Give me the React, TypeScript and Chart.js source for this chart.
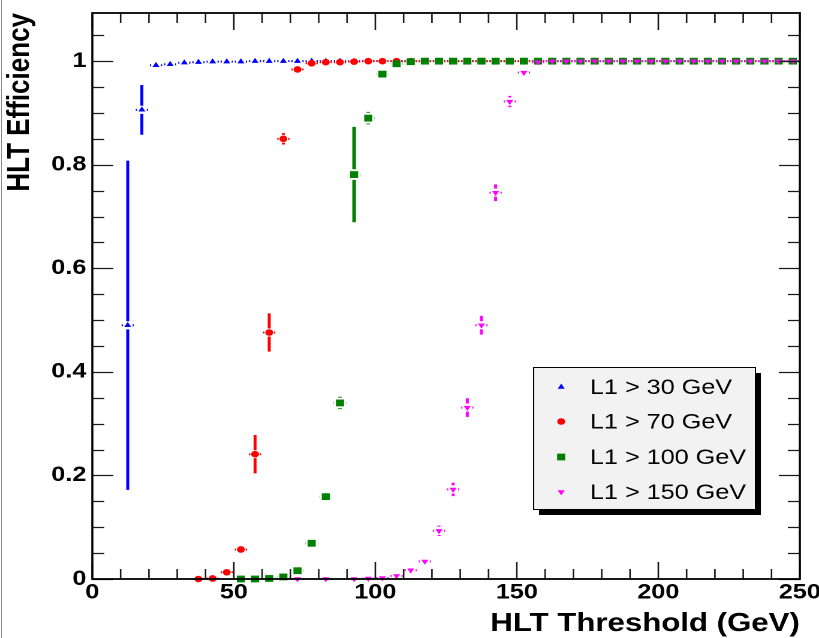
import React, { useEffect, useRef } from 'react';
import { Chart, registerables } from 'chart.js';

Chart.register(...registerables);

// ---------------- data ----------------
const seriesLabels = ['L1 > 30 GeV', 'L1 > 70 GeV', 'L1 > 100 GeV', 'L1 > 150 GeV'];
const seriesColors = ['#0000ff', '#ff0000', '#008000', '#ff00ff'];

const xTickValues = [0, 50, 100, 150, 200, 250];
const xTickLabels = ['0', '50', '100', '150', '200', '250'];
const yTickValues = [0, 0.2, 0.4, 0.6, 0.8, 1];
const yTickLabels = ['0', '0.2', '0.4', '0.6', '0.8', '1'];

const BIN_HALF_WIDTH = 2.5; // GeV, horizontal error bar

const l1_30_x = [12.5, 17.5, 22.5, 27.5, 32.5, 37.5, 42.5, 47.5, 52.5, 57.5, 62.5, 67.5, 72.5, 77.5, 82.5, 87.5, 92.5, 97.5, 102.5, 107.5, 112.5, 117.5, 122.5, 127.5, 132.5, 137.5, 142.5, 147.5, 152.5, 157.5, 162.5, 167.5, 172.5, 177.5, 182.5, 187.5, 192.5, 197.5, 202.5, 207.5, 212.5, 217.5, 222.5, 227.5, 232.5, 237.5, 242.5, 247.5];
const l1_30_eff = [0.49, 0.906, 0.992, 0.994, 0.997, 0.998, 0.999, 0.999, 0.999, 1, 1, 1, 1, 1, 1, 1, 1, 1, 1, 1, 1, 1, 1, 1, 1, 1, 1, 1, 1, 1, 1, 1, 1, 1, 1, 1, 1, 1, 1, 1, 1, 1, 1, 1, 1, 1, 1, 1];
const l1_30_err = [0.318, 0.048, 0.003, 0.002, 0.002, 0.001, 0.001, 0.001, 0.001, 0, 0, 0, 0, 0, 0, 0, 0, 0, 0, 0, 0, 0, 0, 0, 0, 0, 0, 0, 0, 0, 0, 0, 0, 0, 0, 0, 0, 0, 0, 0, 0, 0, 0, 0, 0, 0, 0, 0];

const l1_70_x = [37.5, 42.5, 47.5, 52.5, 57.5, 62.5, 67.5, 72.5, 77.5, 82.5, 87.5, 92.5, 97.5, 102.5, 107.5, 112.5, 117.5, 122.5, 127.5, 132.5, 137.5, 142.5, 147.5, 152.5, 157.5, 162.5, 167.5, 172.5, 177.5, 182.5, 187.5, 192.5, 197.5, 202.5, 207.5, 212.5, 217.5, 222.5, 227.5, 232.5, 237.5, 242.5, 247.5];
const l1_70_eff = [0, 0.001, 0.013, 0.057, 0.241, 0.476, 0.85, 0.984, 0.996, 0.998, 0.998, 0.999, 1, 1, 1, 1, 1, 1, 1, 1, 1, 1, 1, 1, 1, 1, 1, 1, 1, 1, 1, 1, 1, 1, 1, 1, 1, 1, 1, 1, 1, 1, 1];
const l1_70_err = [0.001, 0.001, 0.004, 0.006, 0.037, 0.037, 0.011, 0.005, 0.003, 0.002, 0.001, 0.001, 0, 0, 0, 0, 0, 0, 0, 0, 0, 0, 0, 0, 0, 0, 0, 0, 0, 0, 0, 0, 0, 0, 0, 0, 0, 0, 0, 0, 0, 0, 0];

const l1_100_x = [52.5, 57.5, 62.5, 67.5, 72.5, 77.5, 82.5, 87.5, 92.5, 97.5, 102.5, 107.5, 112.5, 117.5, 122.5, 127.5, 132.5, 137.5, 142.5, 147.5, 152.5, 157.5, 162.5, 167.5, 172.5, 177.5, 182.5, 187.5, 192.5, 197.5, 202.5, 207.5, 212.5, 217.5, 222.5, 227.5, 232.5, 237.5, 242.5, 247.5];
const l1_100_eff = [0, 0, 0.001, 0.004, 0.016, 0.069, 0.159, 0.34, 0.781, 0.89, 0.975, 0.995, 0.999, 1, 1, 1, 1, 1, 1, 1, 1, 1, 1, 1, 1, 1, 1, 1, 1, 1, 1, 1, 1, 1, 1, 1, 1, 1, 1, 1];
const l1_100_err = [0.001, 0.001, 0.001, 0.002, 0.004, 0.006, 0.008, 0.012, 0.092, 0.012, 0.006, 0.004, 0.001, 0, 0, 0, 0, 0, 0, 0, 0, 0, 0, 0, 0, 0, 0, 0, 0, 0, 0, 0, 0, 0, 0, 0, 0, 0, 0, 0];

const l1_150_x = [72.5, 82.5, 92.5, 97.5, 102.5, 107.5, 112.5, 117.5, 122.5, 127.5, 132.5, 137.5, 142.5, 147.5, 152.5, 157.5, 162.5, 167.5, 172.5, 177.5, 182.5, 187.5, 192.5, 197.5, 202.5, 207.5, 212.5, 217.5, 222.5, 227.5, 232.5, 237.5, 242.5, 247.5];
const l1_150_eff = [0, 0, 0, 0.001, 0.002, 0.006, 0.017, 0.034, 0.093, 0.173, 0.331, 0.49, 0.746, 0.922, 0.978, 0.998, 1, 1, 1, 1, 1, 1, 1, 1, 1, 1, 1, 1, 1, 1, 1, 1, 1, 1];
const l1_150_err = [0.001, 0.001, 0.001, 0.001, 0.001, 0.002, 0.003, 0.005, 0.01, 0.013, 0.018, 0.018, 0.016, 0.011, 0.006, 0.002, 0, 0, 0, 0, 0, 0, 0, 0, 0, 0, 0, 0, 0, 0, 0, 0, 0, 0];

// ---------------- layout / style ----------------
const OUT_W = 819;
const OUT_H = 638;
const IN_W = 683; // internal canvas width, stretched horizontally to OUT_W
const STRETCH = OUT_W / IN_W;
const FONT = "'Liberation Sans', Arial, Helvetica, sans-serif";

const markerStyles = ['triangle', 'circle', 'rect', 'triangle'];
const markerRotations = [0, 0, 0, 180];
const markerRadii = [3.4, 3.3, 4.8, 3.4];
const errWidths = [2.5, 2.5, 3, 2.5];

const errorBarPlugin = {
  id: 'errorBars',
  beforeDatasetDraw(chart: any, args: any) {
    const ds = chart.data.datasets[args.index];
    const errs: number[] = ds.errors;
    if (!errs) return;
    const { ctx, chartArea } = chart;
    const xs = chart.scales.x;
    const ys = chart.scales.y;
    const r = ds.pointRadius;
    ctx.save();
    ctx.beginPath();
    ctx.rect(chartArea.left - 6, chartArea.top, chartArea.right - chartArea.left + 12, chartArea.bottom - chartArea.top + 6);
    ctx.clip();
    ctx.strokeStyle = ds.backgroundColor;
    ds.data.forEach((p: any, i: number) => {
      const px = xs.getPixelForValue(p.x);
      const py = ys.getPixelForValue(p.y);
      const x0 = xs.getPixelForValue(p.x - BIN_HALF_WIDTH);
      const x1 = xs.getPixelForValue(p.x + BIN_HALF_WIDTH);
      const gap = r * 0.9 + 1;
      ctx.lineWidth = 2;
      ctx.beginPath();
      ctx.moveTo(x0 + 0.8, py);
      ctx.lineTo(px - gap, py);
      ctx.moveTo(px + gap, py);
      ctx.lineTo(x1 - 0.8, py);
      ctx.stroke();
      const e = errs[i];
      if (e > 0) {
        const yTop = ys.getPixelForValue(p.y + e);
        const yBot = ys.getPixelForValue(p.y - e);
        ctx.lineWidth = ds.errWidth;
        ctx.beginPath();
        if (py - yTop > gap) {
          ctx.moveTo(px, yTop);
          ctx.lineTo(px, py - gap);
        }
        if (yBot - py > gap) {
          ctx.moveTo(px, py + gap);
          ctx.lineTo(px, yBot);
        }
        ctx.stroke();
      }
    });
    ctx.restore();
  },
};

const frameTicksPlugin = {
  id: 'frameTicks',
  afterDraw(chart: any) {
    const { ctx, chartArea } = chart;
    const { left, right, top, bottom } = chartArea;
    const xs = chart.scales.x;
    const ys = chart.scales.y;
    ctx.save();
    ctx.strokeStyle = '#1a1a1a';
    ctx.lineWidth = 1.3;
    ctx.beginPath();
    for (let k = 0; k <= 21; k++) {
      const v = k * 0.05;
      const py = Math.round(ys.getPixelForValue(v)) + 0.5;
      const len = k % 4 === 0 ? 17.5 : 10;
      ctx.moveTo(left, py);
      ctx.lineTo(left + len, py);
      ctx.moveTo(right, py);
      ctx.lineTo(right - len, py);
    }
    for (let k = 0; k <= 25; k++) {
      const v = k * 10;
      const px = xs.getPixelForValue(v);
      const len = k % 5 === 0 ? 17 : 10;
      ctx.moveTo(px, bottom);
      ctx.lineTo(px, bottom - len);
      ctx.moveTo(px, top);
      ctx.lineTo(px, top + len);
    }
    ctx.stroke();
    ctx.strokeStyle = '#000';
    ctx.lineWidth = 1.8;
    ctx.strokeRect(left, top, right - left, bottom - top);
    ctx.restore();
  },
};

function drawMarker(ctx: CanvasRenderingContext2D, style: string, rot: number, x: number, y: number, r: number) {
  ctx.beginPath();
  if (style === 'circle') {
    ctx.arc(x, y, r, 0, Math.PI * 2);
  } else if (style === 'rect') {
    const s = Math.SQRT1_2 * r;
    ctx.rect(x - s, y - s, 2 * s, 2 * s);
  } else {
    let a = (rot * Math.PI) / 180;
    ctx.moveTo(x + Math.sin(a) * r, y - Math.cos(a) * r);
    a += (2 * Math.PI) / 3;
    ctx.lineTo(x + Math.sin(a) * r, y - Math.cos(a) * r);
    a += (2 * Math.PI) / 3;
    ctx.lineTo(x + Math.sin(a) * r, y - Math.cos(a) * r);
    ctx.closePath();
  }
  ctx.fill();
}

const legendPlugin = {
  id: 'rootLegend',
  afterDraw(chart: any) {
    const { ctx } = chart;
    const bx = 444.5;
    const by = 367;
    const bw = 185;
    const bh = 142;
    ctx.save();
    ctx.fillStyle = '#000';
    ctx.fillRect(bx + 5, by + 6, bw, bh);
    ctx.fillStyle = '#f2f2f2';
    ctx.fillRect(bx, by, bw, bh);
    ctx.strokeStyle = '#000';
    ctx.lineWidth = 1;
    ctx.strokeRect(bx + 0.5, by + 0.5, bw, bh);
    const rowsY = [387, 421.5, 457, 492];
    ctx.font = `21px ${FONT}`;
    ctx.textBaseline = 'middle';
    ctx.textAlign = 'left';
    chart.data.datasets.forEach((ds: any, i: number) => {
      ctx.fillStyle = ds.backgroundColor;
      drawMarker(ctx, markerStyles[i], markerRotations[i], 468, rowsY[i], markerRadii[i]);
      ctx.fillStyle = '#000';
      ctx.fillText(ds.label, 492, rowsY[i] + 1);
    });
    ctx.restore();
  },
};

function buildDataset(i: number, xs: number[], ys: number[], errs: number[]) {
  return {
    label: seriesLabels[i],
    data: xs.map((x, k) => ({ x, y: ys[k] })),
    errors: errs,
    errWidth: errWidths[i],
    backgroundColor: seriesColors[i],
    borderColor: seriesColors[i],
    pointBackgroundColor: seriesColors[i],
    pointBorderWidth: 0,
    pointStyle: markerStyles[i],
    rotation: markerRotations[i],
    pointRotation: markerRotations[i],
    pointRadius: markerRadii[i],
    showLine: false,
    clip: false,
    order: 3 - i,
  };
}

function zeroPadding(s: any) {
  s.paddingTop = 0;
  s.paddingBottom = 0;
  s.paddingLeft = 0;
  s.paddingRight = 0;
}

export default function App() {
  const ref = useRef<HTMLCanvasElement | null>(null);
  useEffect(() => {
    if (!ref.current) return;
    const chart = new Chart(ref.current, {
      type: 'scatter',
      data: {
        datasets: [
          buildDataset(0, l1_30_x, l1_30_eff, l1_30_err),
          buildDataset(1, l1_70_x, l1_70_eff, l1_70_err),
          buildDataset(2, l1_100_x, l1_100_eff, l1_100_err),
          buildDataset(3, l1_150_x, l1_150_eff, l1_150_err),
        ] as any,
      },
      options: {
        animation: false,
        responsive: true,
        maintainAspectRatio: false,
        devicePixelRatio: 2,
        layout: { padding: { top: 13, right: IN_W - 667, left: 0, bottom: 0 } },
        plugins: {
          legend: { display: false },
          tooltip: { enabled: false },
        },
        scales: {
          x: {
            type: 'linear',
            min: 0,
            max: 250,
            grid: { display: false, drawTicks: false },
            border: { display: false },
            afterBuildTicks: (s: any) => {
              s.ticks = xTickValues.map((v) => ({ value: v }));
            },
            afterFit: (s: any) => {
              s.height = OUT_H - 579;
              zeroPadding(s);
            },
            ticks: {
              padding: 1,
              color: '#000',
              font: { family: FONT, size: 21, weight: 'bold' },
              maxRotation: 0,
              callback: (_v: any, i: number) => xTickLabels[i],
            },
            title: {
              display: true,
              text: 'HLT Threshold (GeV)',
              align: 'end',
              color: '#000',
              font: { family: FONT, size: 26, weight: 'bold', lineHeight: 1.1 },
              padding: { top: 0, bottom: 0 },
            },
          },
          y: {
            type: 'linear',
            min: 0,
            max: 1.093,
            grid: { display: false, drawTicks: false },
            border: { display: false },
            afterBuildTicks: (s: any) => {
              s.ticks = yTickValues.map((v) => ({ value: v }));
            },
            afterFit: (s: any) => {
              s.width = 77;
              zeroPadding(s);
            },
            ticks: {
              padding: 5,
              color: '#000',
              font: { family: FONT, size: 21, weight: 'bold' },
              callback: (_v: any, i: number) => yTickLabels[i],
            },
            title: {
              display: true,
              text: 'HLT Efficiency',
              align: 'end',
              color: '#000',
              font: { family: FONT, size: 26, weight: 'bold' },
              padding: { top: 1, bottom: 0 },
            },
          },
        },
      } as any,
      plugins: [errorBarPlugin, frameTicksPlugin, legendPlugin],
    });
    return () => chart.destroy();
  }, []);

  return (
    <div style={{ position: 'absolute', left: 0, top: 0, width: OUT_W, height: OUT_H, overflow: 'hidden', background: '#fff' }}>
      <div
        style={{
          position: 'absolute',
          left: 0,
          top: 0,
          width: IN_W,
          height: OUT_H,
          transform: `scaleX(${STRETCH})`,
          transformOrigin: '0 0',
        }}
      >
        <canvas ref={ref} />
      </div>
      <div style={{ position: 'absolute', left: 1, top: 0, width: 1, height: OUT_H, background: '#888' }} />
    </div>
  );
}
